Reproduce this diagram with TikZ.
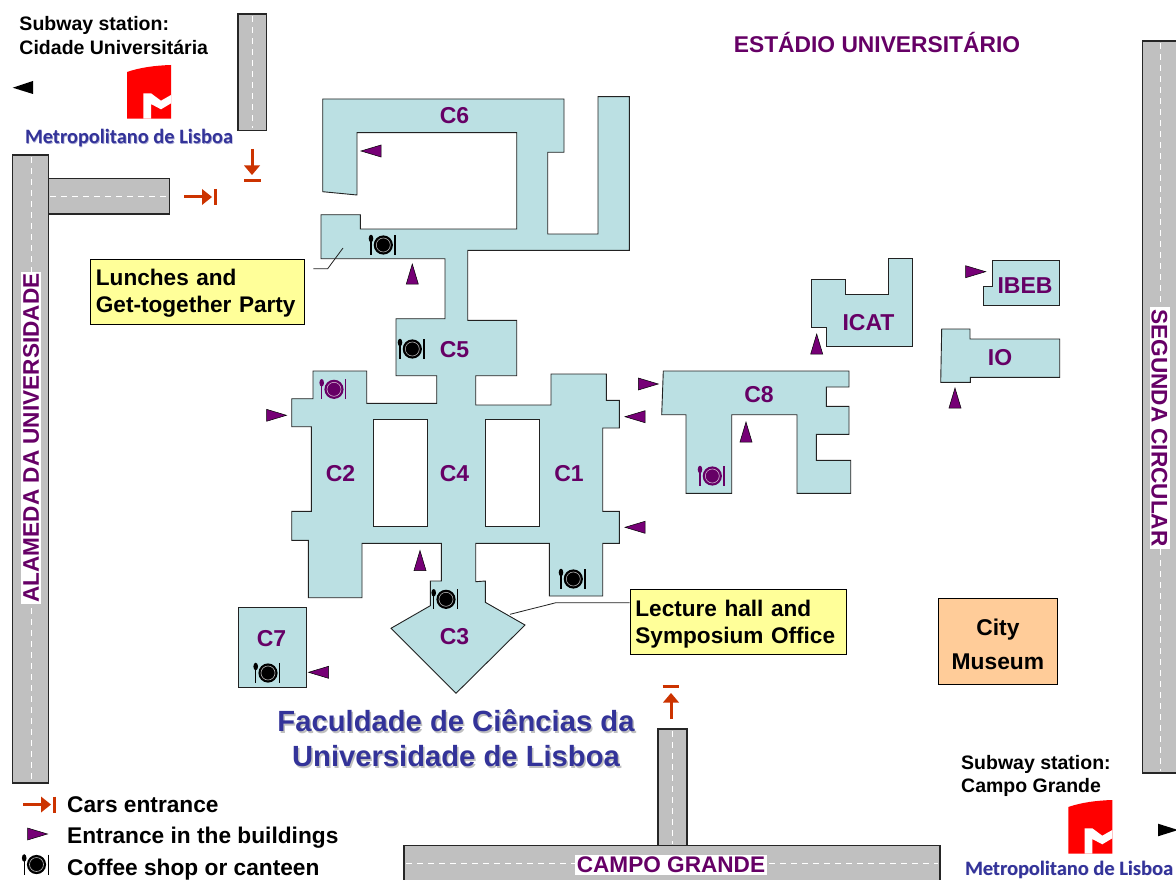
\documentclass[tikz,border=0pt]{standalone}
\usepackage{fontspec}
\setmainfont{Liberation Sans}
\newfontfamily\logofont{Carlito}
\definecolor{bld}{HTML}{BBE0E3}
\definecolor{pur}{HTML}{660066}
\definecolor{tri}{HTML}{760076}
\definecolor{org}{HTML}{CC3300}
\definecolor{roadc}{HTML}{C0C0C0}
\definecolor{blu}{HTML}{333399}
\definecolor{yel}{HTML}{FFFF99}
\definecolor{mus}{HTML}{FFCC99}
\definecolor{edgec}{HTML}{222222}
\newcommand{\logotext}{\logofont\bfseries\fontsize{20.4}{24}\selectfont}
\tikzset{
  x=1pt,y=-1pt,
  bldg/.style={draw=edgec,fill=bld,line width=0.9pt,line join=miter},
  court/.style={draw=edgec,fill=white,line width=0.9pt},
  road/.style={draw=black!85,fill=roadc,line width=1.1pt},
  centre/.style={draw=white,line width=1pt,dash pattern=on 6pt off 5pt},
  lab/.style={font=\bfseries\fontsize{23}{24}\selectfont,text=pur,inner sep=0pt},
  roadlab/.style={font=\bfseries\fontsize{22.6}{24}\selectfont,text=pur,fill=white,inner sep=2pt},
  blk/.style={font=\bfseries\fontsize{19.5}{23.5}\selectfont,align=left,inner sep=0pt,anchor=north west},
  legend/.style={font=\bfseries\fontsize{22.7}{24}\selectfont,inner sep=0pt,anchor=base west},
  callout/.style={draw=black,line width=0.8pt,align=left,font=\bfseries\fontsize{22.6}{27}\selectfont},
  lead/.style={draw=edgec,line width=0.8pt},
  carr/.style={draw=org,line width=3pt},
  entrance/.style={draw=black,fill=tri,line width=0.5pt,line join=miter},
  logolab/.style={font=\logotext,text=blu,inner sep=0pt},
  logohalo/.style={font=\logotext,text=blu!45,inner sep=0pt},
  pics/entR/.style={code={\draw[entrance] (-10,-6)--(10,0)--(-10,6)--cycle;}},
  pics/entL/.style={code={\draw[entrance] (10,-6)--(-10,0)--(10,6)--cycle;}},
  pics/entU/.style={code={\draw[entrance] (-6,10)--(0,-10)--(6,10)--cycle;}},
  pics/plate/.style={code={
    \fill[#1] (0,0) circle[radius=9.6];
    \draw[white!70!#1,line width=0.6pt] (0,0) circle[radius=7];
    \draw[#1,line width=1.2pt] (-12.3,-8) -- (-12.3,10);
    \fill[#1] (-12.3,-6.5) ellipse[x radius=2.3,y radius=3.8];
    \draw[#1,line width=1.3pt] (11.8,-10) -- (11.8,10);
  }},
  pics/carsR/.style={code={
    \draw[carr] (-16,0) -- (5,0);
    \fill[org] (12,0) -- (2,-8) -- (2,8) -- cycle;
    \draw[org,line width=3.3pt] (15.5,-8) -- (15.5,8);
  }},
  pics/logo/.style={code={
    \fill[red] (127,72) .. controls (140,67.5) and (155,65.5) .. (171,65) -- (171,118.7) -- (127,118.7) -- cycle;
    \fill[white] (143.3,93.3) -- (151,93.3) -- (161,100.7) -- (171,95) -- (171,103.3) -- (161,109.3) -- (151,104) -- (151,118.7) -- (143.3,118.7) -- cycle;
  }}
}
\begin{document}
\begin{tikzpicture}
\useasboundingbox (0,0) rectangle (1176,880);
\clip (0,0) rectangle (1176,880);
\fill[white] (0,0) rectangle (1176,880);

% roads
\draw[road] (238,14) rectangle (266.7,130.3);
\draw[centre] (252.3,16) -- (252.3,128);
\draw[road] (48.7,178.7) rectangle (169.3,214);
\draw[centre] (50,196.3) -- (168,196.3);
\draw[road] (12.7,155) rectangle (48.7,783);
\draw[centre] (31,157) -- (31,781);
\draw[road] (658,729) rectangle (687,845.5);
\draw[centre] (672.5,731) -- (672.5,844);
\draw[road] (404,845.5) rectangle (940,890);
\draw[centre] (406,863) -- (938,863);
\draw[road] (1142.5,41) rectangle (1190,773);
\draw[centre] (1160,43) -- (1160,771);

\node[roadlab,rotate=90] (alameda) at (31,438) {ALAMEDA DA UNIVERSIDADE};
\node[roadlab,rotate=-90] (segunda) at (1159.5,428) {SEGUNDA CIRCULAR};
\node[roadlab] (campo) at (671,865) {CAMPO GRANDE};

% main building
\draw[bldg] (322.7,99) -- (564,99) -- (564,152.3) -- (547.7,152.3) -- (547.7,234) -- (598,234) -- (598,96.7) -- (629.3,96.7) -- (629.3,250.3) -- (467.7,250.3) -- (467.7,320.3) -- (516.7,320.3) -- (516.7,375.7) -- (475.7,375.7) -- (475.7,405) -- (551,405) -- (551,374) -- (606.3,374) -- (606.3,400.3) -- (619.3,400.3) -- (619.3,428) -- (602.7,428) -- (602.7,511.3) -- (619.3,511.3) -- (619.3,543.3) -- (602.7,543.3) -- (602.7,596) -- (549.3,596) -- (549.3,543.3) -- (475.7,543.3) -- (475.7,581.7) -- (485.3,581) -- (485.3,602.3) -- (525,625) -- (456,693.3) -- (391,628.3) -- (430.3,605.7) -- (430.3,581) -- (441.3,581) -- (441.3,543.3) -- (362,543.3) -- (362,597.7) -- (308.3,597.7) -- (308.3,540.3) -- (291.7,540.3) -- (291.7,511.3) -- (311.3,511.3) -- (311.3,426.7) -- (291.7,426.7) -- (291.7,398.7) -- (313,398.7) -- (313,371) -- (366.7,371) -- (366.7,403.3) -- (436.7,403.3) -- (436.7,375.7) -- (396,375.7) -- (396,318.7) -- (445,318.7) -- (445,258.7) -- (321,258.7) -- (321,214.7) -- (360.3,214.7) -- (360.3,229) -- (516.7,229) -- (516.7,132.7) -- (357,132.7) -- (357,195) -- (322.7,191.7) -- cycle;
\draw[court] (373.3,419.3) rectangle (427.3,526.7);
\draw[court] (485.7,419.3) rectangle (539.7,526.7);

% other buildings
\draw[bldg] (238,607.3) rectangle (306.3,687);
\draw[bldg] (663.3,371) -- (849,371) -- (849,387) -- (826.3,387) -- (826.3,406.3) -- (849,406.3) -- (849,434.3) -- (816.3,434.3) -- (816.3,460.3) -- (850.7,460.3) -- (850.7,493.3) -- (797,493.3) -- (797,414.7) -- (731.7,414.7) -- (731.7,493.3) -- (686,493.3) -- (686,414.7) -- (661.7,414.7) -- cycle;
\draw[bldg] (811.7,279.7) -- (845.7,279.7) -- (845.7,294.3) -- (888.3,294.3) -- (888.3,258.7) -- (912.7,258.7) -- (912.7,346.7) -- (826.3,346.7) -- (826.3,327) -- (811.7,327) -- cycle;
\draw[bldg] (992.7,260.3) -- (1059.3,260.3) -- (1059.3,305) -- (983.3,305) -- (983.3,286) -- (992.7,286) -- cycle;
\draw[bldg] (941.7,329) -- (970,329) -- (970,339) -- (1059.7,339) -- (1059.7,377.3) -- (970.3,377.3) -- (970.3,382.3) -- (940.7,382.3) -- cycle;

% building labels
\node[lab] (c6) at (454.5,115.5) {C6};
\node[lab] (c5) at (454.5,350) {C5};
\node[lab] (c2) at (340.5,473.5) {C2};
\node[lab] (c4) at (454.5,473.5) {C4};
\node[lab] (c1) at (569,473.5) {C1};
\node[lab] (c3) at (454.5,636.5) {C3};
\node[lab] (c7) at (271.5,638.5) {C7};
\node[lab] (c8) at (759,395) {C8};
\node[lab] (icat) at (868.5,322.5) {ICAT};
\node[lab] (ibeb) at (1025,285.5) {IBEB};
\node[lab] (io) at (1000,358) {IO};
\node[lab] (estadio) at (877,42.5) {\fontsize{22.8}{24}\selectfont ESTÁDIO UNIVERSITÁRIO};

% callouts
\node[callout,fill=yel,anchor=north west,text width=203pt,minimum height=64.5pt,inner xsep=5.5pt,inner ysep=0pt] (lunch) at (90,259) {\rule{0pt}{20pt}Lunches and\\Get-together Party};
\node[callout,fill=yel,anchor=north west,text width=205pt,minimum height=65pt,inner xsep=5.5pt,inner ysep=0pt] (lecture) at (629.5,589) {\rule{0pt}{20pt}Lecture hall and\\Symposium Office};
\node[callout,fill=mus,anchor=north west,minimum width=119pt,minimum height=86pt,align=center,inner sep=0pt,font=\bfseries\fontsize{22.8}{34.5}\selectfont] (museum) at (938,598) {\rule{0pt}{22pt}City\\Museum};

\coordinate (lunchA) at (343,248);
\coordinate (lunchB) at (327.7,268.7);
\coordinate (lunchC) at (313.3,268.7);
\draw[lead] (lunchC) -- (lunchB) -- (lunchA);
\coordinate (lecA) at (510,614.3);
\coordinate (lecB) at (556,602.7);
\draw[lead] (lecture.west |- lecB) -- (lecB) -- (lecA);

% coffee shops
\pic at (383.3,245) {plate=black};
\pic at (412.3,349) {plate=black};
\pic at (334,389.3) {plate=pur};
\pic at (446,599.3) {plate=black};
\pic at (573.3,579) {plate=black};
\pic at (268,673) {plate=black};
\pic at (712.3,476) {plate=pur};

% entrances
\pic at (276.5,415.3) {entR};
\pic at (648.3,384) {entR};
\pic at (975.7,271.7) {entR};
\pic at (635,416.7) {entL};
\pic at (635,527.3) {entL};
\pic at (318.5,672.3) {entL};
\pic at (371,151) {entL};
\pic at (420,560.5) {entU};
\pic at (412.3,274) {entU};
\pic at (746,432) {entU};
\pic at (816.7,344) {entU};
\pic at (955,398) {entU};

% car entrances
\pic at (200,197) {carsR};
\draw[carr] (252,149) -- (252,168);
\fill[org] (252,175) -- (244,165.5) -- (260,165.5) -- cycle;
\draw[org,line width=3.3pt] (244,180.5) -- (260.5,180.5);
\draw[carr] (671,719) -- (671,700);
\fill[org] (671,693) -- (663,702.5) -- (679,702.5) -- cycle;
\draw[org,line width=3.3pt] (662.5,686.5) -- (679,686.5);

% subway
\node[blk] (cidade) at (19.3,16.5) {Subway station:\\Cidade Universitária};
\node[blk] (grande) at (961,755) {Subway station:\\Campo Grande};
\pic at (0,0) {logo};
\pic at (941.3,735) {logo};
\node[logohalo] (metro1s) at (129.7,138.5) {Metropolitano de Lisboa};
\node[logolab] (metro1) at (129,138) {Metropolitano de Lisboa};
\node[logohalo] (metro2s) at (1069.5,870.2) {Metropolitano de Lisboa};
\node[logolab] (metro2) at (1069,869.7) {Metropolitano de Lisboa};
\fill[black] (12.7,87.7) -- (33,81) -- (33,94) -- cycle;
\fill[black] (1178,830) -- (1158,823.7) -- (1158,836.3) -- cycle;

% title
\node[font=\bfseries\fontsize{29.2}{35}\selectfont,align=center,text=black!25,inner sep=0pt] (titleshadow) at (457.5,740) {Faculdade de Ciências da\\Universidade de Lisboa};
\node[font=\bfseries\fontsize{29.2}{35}\selectfont,align=center,text=blu,inner sep=0pt] (title) at (456,738.5) {Faculdade de Ciências da\\Universidade de Lisboa};

% legend
\pic at (39,804.5) {carsR};
\node[legend] (lg1) at (67,812) {Cars entrance};
\pic at (37.5,834) {entR};
\node[legend] (lg2) at (67,843) {Entrance in the buildings};
\pic at (36.5,864.5) {plate=black};
\node[legend] (lg3) at (67,875) {Coffee shop or canteen};
\end{tikzpicture}
\end{document}
